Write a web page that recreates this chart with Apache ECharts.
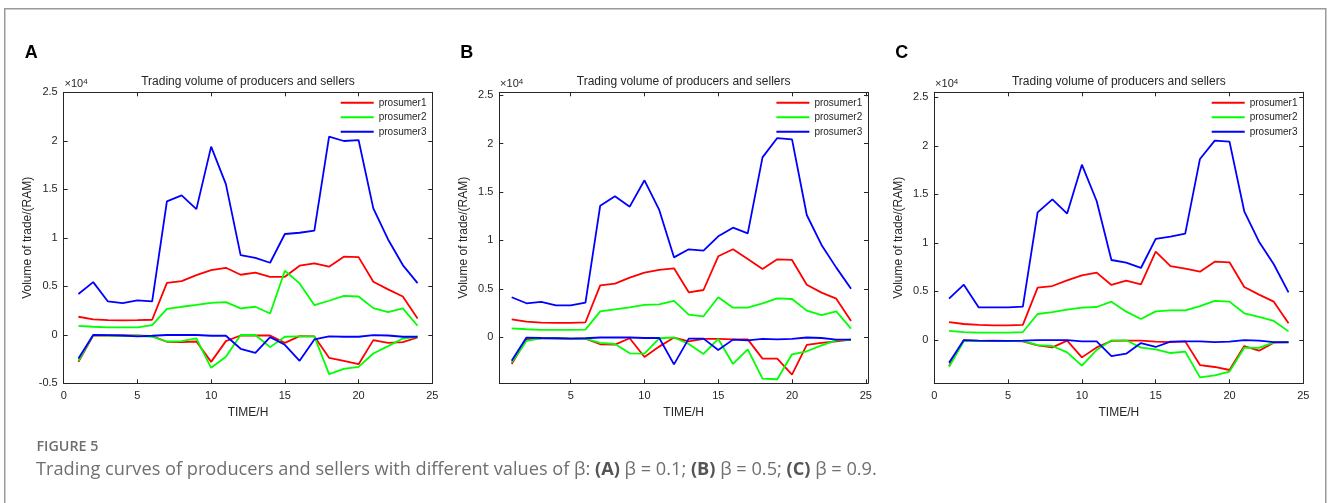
<!DOCTYPE html>
<html><head><meta charset="utf-8">
<script src="https://cdn.jsdelivr.net/npm/echarts@6/dist/echarts.min.js"></script>
<style>html,body{margin:0;padding:0;background:#fff}#c{width:1328px;height:503px}</style>
</head><body><div id="c"></div>
<script>
// ---------- data ----------
const hours = [1,2,3,4,5,6,7,8,9,10,11,12,13,14,15,16,17,18,19,20,21,22,23,24];
const seriesNames = ['prosumer1','prosumer2','prosumer3'];
const seriesColors = ['#ff0000','#00ff00','#0000ff'];
const panelLetters = ['A','B','C'];
const xTicksA = [0,5,10,15,20,25];
const xTicksB = [5,10,15,20,25];
const xTicksC = [0,5,10,15,20,25];
const yTicksA = [-5000,0,5000,10000,15000,20000,25000];
const yTicksB = [0,5000,10000,15000,20000,25000];
const yTicksC = [0,5000,10000,15000,20000,25000];

// Panel A (beta = 0.1)
const sellA1 = [1860,1580,1510,1480,1510,1550,5360,5540,6160,6670,6910,6190,6400,5980,5980,7120,7360,7020,8050,8010,5470,4680,3950,1680];
const sellA2 = [930,830,760,760,760,1000,2680,2890,3090,3300,3370,2720,2890,2200,6600,5300,3060,3510,4020,3950,2750,2340,2720,930];
const sellA3 = [4200,5430,3440,3270,3540,3440,13760,14370,12960,19400,15540,8220,7940,7430,10390,10520,10730,20430,19980,20080,13030,9830,7190,5330];
const buyA1 = [-2790,-70,-70,-70,-70,-140,-720,-760,-690,-2790,-650,-70,-70,-70,-830,-140,-170,-2370,-2680,-3030,-550,-830,-760,-280];
const buyA2 = [-2680,-30,-70,-100,-100,-200,-690,-650,-380,-3400,-2270,-20,-20,-1270,-200,-170,-170,-4060,-3510,-3300,-1930,-1170,-380,-200];
const buyA3 = [-2440,-20,-30,-70,-170,-100,-20,-20,-20,-100,-100,-1440,-1860,-240,-1030,-2680,-480,-170,-200,-200,-30,-70,-200,-200];

// Panel B (beta = 0.5)
const sellB1 = [1860,1620,1510,1480,1480,1550,5360,5540,6160,6670,6950,7120,4640,4880,8360,9080,8080,7050,8050,7980,5430,4610,3990,1680];
const sellB2 = [930,830,760,760,760,790,2680,2890,3090,3340,3400,3750,2340,2170,4130,3060,3060,3510,4020,3950,2750,2300,2680,890];
const sellB3 = [4130,3510,3650,3300,3300,3580,13580,14550,13480,16200,13140,8250,9080,8940,10420,11310,10730,18570,20560,20430,12620,9530,7190,5020];
const buyB1 = [-2750,-210,-100,-100,-140,-140,-720,-760,-100,-2030,-960,-30,-410,-170,-170,-210,-210,-2200,-2200,-3850,-790,-580,-410,-240];
const buyB2 = [-2610,-380,-100,-100,-140,-140,-580,-690,-1650,-1690,-100,-20,-690,-1720,-170,-2750,-1240,-4260,-4330,-1750,-1440,-830,-310,-240];
const buyB3 = [-2410,-30,-70,-100,-140,-100,-20,-20,-20,-70,-70,-2790,-140,-140,-1310,-240,-310,-170,-210,-170,-20,-70,-240,-240];

// Panel C (beta = 0.9)
const sellC1 = [1850,1650,1550,1510,1510,1550,5390,5560,6150,6660,6940,5670,6110,5730,9100,7620,7350,7040,8070,8000,5460,4670,3950,1720];
const sellC2 = [930,820,760,760,760,820,2680,2880,3130,3330,3400,3950,2920,2160,2950,3060,3060,3500,4020,3950,2750,2370,1960,890];
const sellC3 = [4260,5700,3370,3370,3370,3430,13150,14490,13020,18060,14320,8240,7970,7420,10410,10650,10950,18650,20540,20430,13260,10130,7800,4910];
const buyC1 = [-2680,-30,-100,-70,-100,-140,-550,-760,-70,-1790,-760,-100,-70,-70,-170,-210,-140,-2580,-2780,-3090,-620,-1100,-270,-240];
const buyC2 = [-2750,-100,-100,-100,-100,-100,-520,-620,-1270,-2640,-1030,-30,-30,-790,-960,-1340,-1200,-3850,-3640,-3260,-790,-820,-240,-240];
const buyC3 = [-2340,-10,-70,-100,-100,-70,-10,-10,-10,-140,-140,-1650,-1410,-310,-720,-170,-140,-140,-210,-170,-10,-70,-210,-210];

// ---------- layout ----------
const panels = [
  {sell:[sellA1,sellA2,sellA3], buy:[buyA1,buyA2,buyA3], xTicks:xTicksA, yTicks:yTicksA,
   xMin:0, xMax:25, yMin:-5000, yMax:25000, left:63.7, top:92.3, width:368.6, height:291},
  {sell:[sellB1,sellB2,sellB3], buy:[buyB1,buyB2,buyB3], xTicks:xTicksB, yTicks:yTicksB,
   xMin:0.16, xMax:25.15, yMin:-4746, yMax:25280, left:499.3, top:92.3, width:368.7, height:291},
  {sell:[sellC1,sellC2,sellC3], buy:[buyC1,buyC2,buyC3], xTicks:xTicksC, yTicks:yTicksC,
   xMin:0, xMax:25, yMin:-4460, yMax:25515, left:934.3, top:92.3, width:369, height:291}
];
const AX = '#262626';
const FONT = '"Liberation Sans", Arial, Helvetica, sans-serif';

const grid = [], xAxis = [], yAxis = [], series = [], legend = [], graphic = [];

graphic.push({type:'rect', shape:{x:4.75, y:8.75, width:1321, height:600},
  style:{fill:'none', stroke:'#9a9a9a', lineWidth:1.5}, silent:true});

panels.forEach((p, i) => {
  grid.push({left:p.left, top:p.top, width:p.width, height:p.height, show:false});
  const tick = (vals) => ({show:true, inside:true, length:4, customValues:vals, lineStyle:{color:AX, width:1}});
  xAxis.push({gridIndex:i, type:'value', min:p.xMin, max:p.xMax, position:'bottom',
    axisLine:{show:true, onZero:false, lineStyle:{color:AX, width:1}},
    axisTick:tick(p.xTicks),
    axisLabel:{customValues:p.xTicks, margin:7, color:AX, fontSize:11, fontFamily:FONT, showMinLabel:true, showMaxLabel:true},
    splitLine:{show:false},
    name:'TIME/H', nameLocation:'middle', nameGap:22,
    nameTextStyle:{color:AX, fontSize:12, fontFamily:FONT}});
  xAxis.push({gridIndex:i, type:'value', min:p.xMin, max:p.xMax, position:'top',
    axisLine:{show:true, onZero:false, lineStyle:{color:AX, width:1}},
    axisTick:tick(p.xTicks), axisLabel:{show:false}, splitLine:{show:false}});
  yAxis.push({gridIndex:i, type:'value', min:p.yMin, max:p.yMax, position:'left',
    axisLine:{show:true, onZero:false, lineStyle:{color:AX, width:1}},
    axisTick:tick(p.yTicks),
    axisLabel:{customValues:p.yTicks, margin:6, color:AX, fontSize:11, fontFamily:FONT,
      formatter:(v)=>String(Math.round(v)/10000)},
    splitLine:{show:false},
    name:'Volume of trade/(RAM)', nameLocation:'middle', nameGap:30, nameRotate:90,
    nameTextStyle:{color:AX, fontSize:12, fontFamily:FONT}});
  yAxis.push({gridIndex:i, type:'value', min:p.yMin, max:p.yMax, position:'right',
    axisLine:{show:true, onZero:false, lineStyle:{color:AX, width:1}},
    axisTick:tick(p.yTicks), axisLabel:{show:false}, splitLine:{show:false}});

  const addSeries = (arrs) => arrs.forEach((vals, k) => {
    series.push({type:'line', name:seriesNames[k], xAxisIndex:2*i, yAxisIndex:2*i,
      data:hours.map((h, j) => [h, vals[j]]), showSymbol:false, symbol:'none',
      lineStyle:{color:seriesColors[k], width:1.8}, itemStyle:{color:seriesColors[k]},
      silent:true, animation:false});
  });
  addSeries(p.buy);
  addSeries(p.sell);

  legend.push({data:seriesNames, orient:'vertical', left:p.left + p.width - 91.6, top:p.top + 3.2,
    itemWidth:33, itemHeight:2, icon:'rect', itemGap:0, padding:0, selectedMode:false,
    textStyle:{color:AX, fontSize:10, fontFamily:FONT, lineHeight:14.5}});

  const cx = p.left + p.width / 2;
  graphic.push({type:'text', x:cx, y:81.7, silent:true,
    style:{text:'Trading volume of producers and sellers', fill:AX, font:'12px ' + FONT, align:'center', verticalAlign:'middle'}});
  graphic.push({type:'text', x:p.left + 0.8, y:84.3, silent:true,
    style:{text:'×10{s|4}', fill:AX, font:'11px ' + FONT, verticalAlign:'middle',
      rich:{s:{fontSize:8, fontFamily:FONT, fill:AX, verticalAlign:'bottom', padding:[0,0,6,0]}}}});
  graphic.push({type:'text', x:p.left - 39, y:53.5, silent:true,
    style:{text:panelLetters[i], fill:'#000', font:'bold 18px ' + FONT, verticalAlign:'middle'}});
});

graphic.push({type:'text', x:36.5, y:446.5, silent:true,
  style:{text:'FIGURE 5', fill:'#6f6f6f', font:'600 14.3px "Open Sans", sans-serif', verticalAlign:'middle'}});
graphic.push({type:'text', x:36, y:469.5, silent:true,
  style:{text:'Trading curves of producers and sellers with different values of β: {b|(A)} β = 0.1; {b|(B)} β = 0.5; {b|(C)} β = 0.9.',
    fill:'#6f6f6f', font:'18.2px "Open Sans", sans-serif', verticalAlign:'middle',
    rich:{b:{fontWeight:'bold', fill:'#555', fontSize:18.2, fontFamily:'Open Sans'}}}});

const chart = echarts.init(document.getElementById('c'), null, {renderer:'canvas'});
chart.setOption({animation:false, backgroundColor:'#fff', grid, xAxis, yAxis, series, legend, graphic});
</script></body></html>
